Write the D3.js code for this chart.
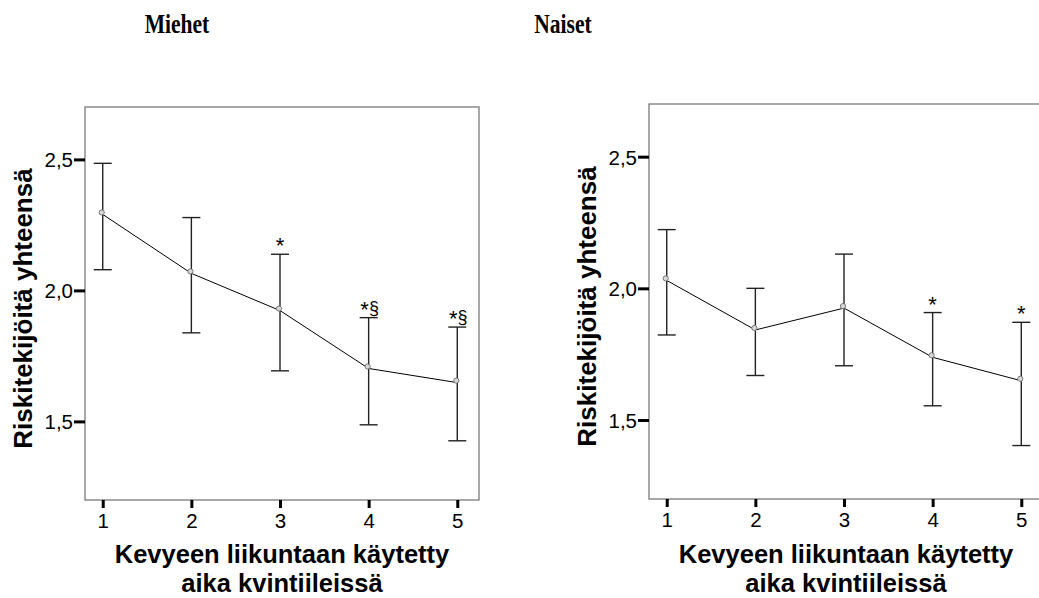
<!DOCTYPE html>
<html>
<head>
<meta charset="utf-8">
<script src="https://cdn.jsdelivr.net/npm/d3@7"></script>
<style>
  body { margin: 0; background: #fff; }
  svg { display: block; }
  .tick text { font-family: Arial, "Liberation Sans", sans-serif; font-size: 20.5px; fill: #000; }
  .tick line { stroke: #000; stroke-width: 3; }
  .axis-title { font-family: Arial, "Liberation Sans", sans-serif; font-weight: bold; font-size: 26px; fill: #000; }
  .x-title { font-size: 25.5px; }
  .panel-title { font-family: "Times New Roman", "Liberation Serif", serif; font-weight: bold; font-size: 28px; fill: #000; }
  .mark { font-family: Arial, "Liberation Sans", sans-serif; font-size: 22px; fill: #000; }
</style>
</head>
<body>
<svg id="chart" width="1039" height="598"></svg>
<script>
const quintiles = [1, 2, 3, 4, 5];
const menMean = [2.29, 2.065, 1.923, 1.702, 1.648];
const menLow = [2.079, 1.838, 1.693, 1.487, 1.426];
const menHigh = [2.485, 2.278, 2.138, 1.896, 1.86];
const menMarks = ["", "", "*", "*§", "*§"];
const womenMean = [2.03, 1.842, 1.925, 1.738, 1.649];
const womenLow = [1.823, 1.669, 1.706, 1.554, 1.403];
const womenHigh = [2.223, 2.0, 2.13, 1.908, 1.871];
const womenMarks = ["", "", "", "*", "*"];
const yTicks = [1.5, 2.0, 2.5];
const titles = ["Miehet", "Naiset"];
const yTitle = "Riskitekijöitä yhteensä";
const xTitle = ["Kevyeen liikuntaan käytetty", "aika kvintiileissä"];

const panels = [
  { title: titles[0], mean: menMean, low: menLow, high: menHigh, marks: menMarks,
    x: 85, y: 107, w: 394, h: 393, titleX: 177 },
  { title: titles[1], mean: womenMean, low: womenLow, high: womenHigh, marks: womenMarks,
    x: 649, y: 104, w: 394, h: 395, titleX: 563 }
];

const svg = d3.select("#chart");
const fmt = d => d3.format(".1f")(d).replace(".", ",");

panels.forEach(p => {
  const g = svg.append("g");
  const x = d3.scaleLinear().domain([0.8, 5.245]).range([p.x, p.x + p.w]);
  const y = d3.scaleLinear().domain([1.2, 2.7]).range([p.y + p.h, p.y]);

  // panel title (the original type is tall and narrow)
  svg.append("text")
    .attr("class", "panel-title")
    .attr("transform", `translate(${p.titleX},33) scale(0.77,1)`)
    .attr("text-anchor", "middle")
    .text(p.title);

  // frame
  g.append("rect")
    .attr("x", p.x).attr("y", p.y)
    .attr("width", p.w).attr("height", p.h)
    .attr("fill", "none")
    .attr("stroke", "#6e6e6e")
    .attr("stroke-width", 1.2);

  // axes
  const yAxis = g.append("g")
    .attr("transform", `translate(${p.x},0)`)
    .call(d3.axisLeft(y).tickValues(yTicks).tickFormat(fmt).tickSize(11).tickPadding(1));
  yAxis.select(".domain").remove();
  yAxis.selectAll(".tick text").attr("dy", "0.36em");

  const xAxis = g.append("g")
    .attr("transform", `translate(0,${p.y + p.h})`)
    .call(d3.axisBottom(x).tickValues(quintiles).tickFormat(d3.format("d")).tickSize(8).tickPadding(5));
  xAxis.select(".domain").remove();

  // axis titles
  g.append("text")
    .attr("class", "axis-title")
    .attr("transform", `translate(${p.x - 53},${p.y + p.h / 2 + 5}) rotate(-90)`)
    .attr("text-anchor", "middle")
    .text(yTitle);

  g.selectAll(".x-title")
    .data(xTitle)
    .enter().append("text")
    .attr("class", "axis-title x-title")
    .attr("text-anchor", "middle")
    .attr("x", p.x + p.w / 2)
    .attr("y", (d, i) => 563 + i * 29)
    .text(d => d);

  const rows = quintiles.map((q, i) => ({ q, mean: p.mean[i], low: p.low[i], high: p.high[i], mark: p.marks[i] }));

  // error bars
  const bars = g.selectAll(".err").data(rows).enter().append("g").attr("class", "err")
    .attr("stroke", "#222").attr("stroke-width", 1.4);
  bars.append("line")
    .attr("x1", d => x(d.q)).attr("x2", d => x(d.q))
    .attr("y1", d => y(d.low)).attr("y2", d => y(d.high));
  bars.append("line")
    .attr("x1", d => x(d.q) - 9).attr("x2", d => x(d.q) + 9)
    .attr("y1", d => y(d.low)).attr("y2", d => y(d.low));
  bars.append("line")
    .attr("x1", d => x(d.q) - 9).attr("x2", d => x(d.q) + 9)
    .attr("y1", d => y(d.high)).attr("y2", d => y(d.high));

  // mean line
  g.append("path")
    .datum(rows)
    .attr("fill", "none")
    .attr("stroke", "#000")
    .attr("stroke-width", 1)
    .attr("d", d3.line().x(d => x(d.q)).y(d => y(d.mean)));

  // markers
  g.selectAll(".pt").data(rows).enter().append("circle")
    .attr("class", "pt")
    .attr("cx", d => x(d.q) - 1)
    .attr("cy", d => y(d.mean) - 2)
    .attr("r", 2.6)
    .attr("fill", "#d8d8d8")
    .attr("stroke", "#777")
    .attr("stroke-width", 1);

  // significance marks
  const marks = g.selectAll(".mark").data(rows.filter(d => d.mark)).enter().append("text")
    .attr("class", "mark")
    .attr("x", d => x(d.q) + (d.mark.length > 1 ? 1 : 0))
    .attr("y", d => y(d.high) - 1)
    .attr("text-anchor", "middle");
  marks.append("tspan").text("*");
  marks.filter(d => d.mark.length > 1).append("tspan")
    .attr("font-size", "18px").attr("dy", "-3")
    .text("§");
});
</script>
</body>
</html>
